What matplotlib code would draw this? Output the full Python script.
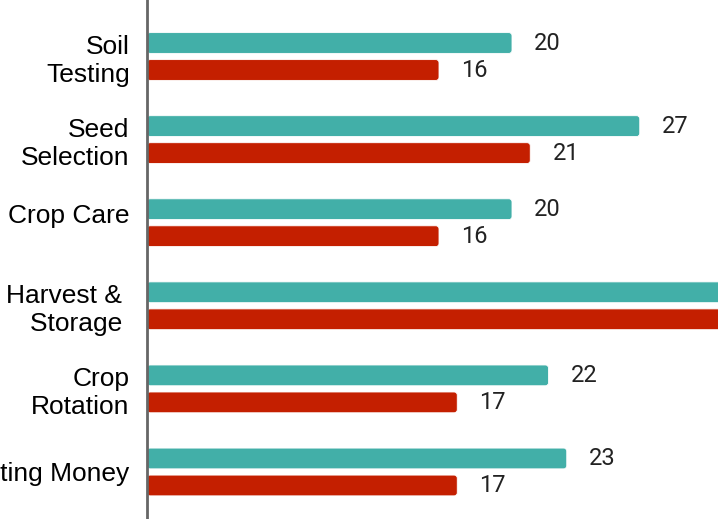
"""Horizontal paired bars: two groups per training topic, value labels at bar ends."""
import matplotlib.pyplot as plt
import matplotlib.transforms as mtransforms
from matplotlib.patches import FancyBboxPatch

TOPICS = [
    "Soil\nTesting",
    "Seed\nSelection",
    "Crop Care",
    "Harvest & \nStorage ",
    "Crop\nRotation",
    "Budgeting Money",
]
TEAL_VALUES = [20, 27, 20, 36, 22, 23]
RED_VALUES = [16, 21, 16, 34, 17, 17]

TEAL = "#42AFA8"
RED = "#C41F00"

BAR_H = 0.25
OFFSET = 0.1625


def rounded_barh(ax, y, width, height, colour):
    # small rounded corners; mutation_aspect keeps the radius even in pixels
    patch = FancyBboxPatch(
        (0, y - height / 2), width, height,
        boxstyle="round,pad=0,rounding_size=0.17",
        mutation_aspect=0.22,
        facecolor=colour, edgecolor="white", linewidth=0.6, zorder=2,
    )
    ax.add_patch(patch)


fig = plt.figure(figsize=(7.18, 5.19), dpi=100)
ax = fig.add_axes([147 / 718, 0, 730 / 718, 1])

for i, (tv, rv) in enumerate(zip(TEAL_VALUES, RED_VALUES)):
    rounded_barh(ax, i - OFFSET, tv, BAR_H, TEAL)
    rounded_barh(ax, i + OFFSET, rv, BAR_H, RED)
    for v, y in ((tv, i - OFFSET), (rv, i + OFFSET)):
        ax.annotate(str(v), (v, y), xytext=(16.0, 0), textcoords="offset points",
                    va="center", ha="left", fontsize=17, family="Roboto",
                    color="#222222", annotation_clip=False)

ax.set_xlim(0, 40)
ax.set_ylim(5.566, -0.68)

ax.set_yticks(range(len(TOPICS)))
ax.set_yticklabels(TOPICS, family="Liberation Sans", fontsize=19, linespacing=1.2)
ax.tick_params(axis="y", length=0, pad=12.5)

# single-line "Crop Care" sits a little above its pair of bars
nudge = mtransforms.ScaledTranslation(0, 9 / 100, fig.dpi_scale_trans)
crop_care = ax.get_yticklabels()[2]
crop_care.set_transform(crop_care.get_transform() + nudge)

ax.set_xticks([])

for side in ("top", "right", "bottom"):
    ax.spines[side].set_visible(False)
ax.spines["left"].set_color("#666666")
ax.spines["left"].set_linewidth(2)
ax.spines["left"].set_zorder(3)

fig.savefig("out.png", dpi=100)
